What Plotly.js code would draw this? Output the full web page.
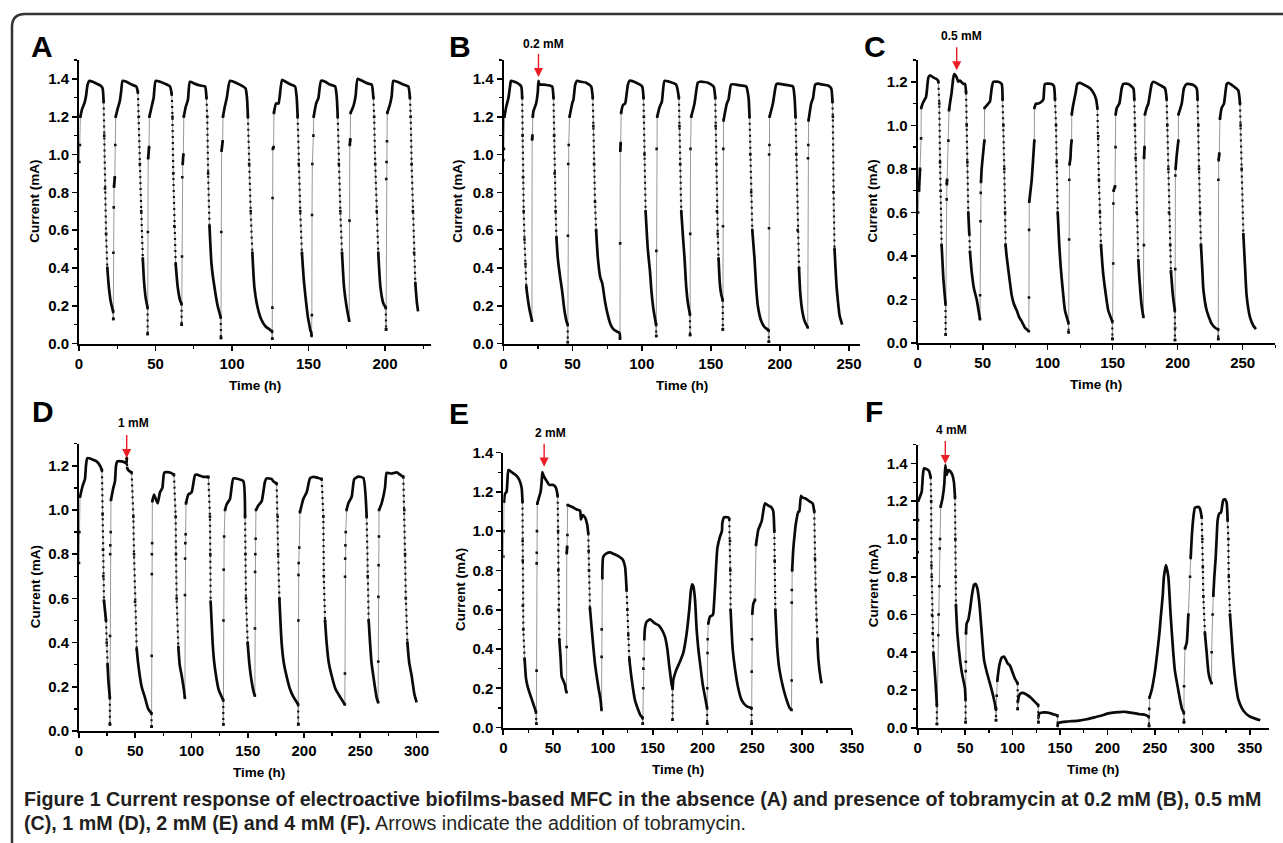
<!DOCTYPE html>
<html><head><meta charset="utf-8">
<script src="https://cdn.plot.ly/plotly-3.0.1.min.js"></script>
<style>html,body{margin:0;padding:0;background:#fff;}#chart{width:1283px;height:843px;}</style>
</head><body><div id="chart"></div>
<script>
// ---------------- DATA ----------------
const timeA = [0.2,0.6,0.9,2.0,3.5,4.6,5.6,6.8,9.0,11.5,14.0,15.4,16.1,16.5,17.0,17.7,18.5,19.5,20.8,22.3,22.4,
 22.5,22.7,22.9,23.4,23.7,24.0,25.2,26.6,27.5,28.5,31.0,34.3,37.4,38.5,39.1,39.8,40.7,41.7,42.5,43.6,44.8,44.9,
 45.0,45.2,45.8,46.0,47.4,48.8,50.1,53.0,57.3,59.5,60.6,61.1,61.6,62.3,63.2,64.5,66.0,67.0,67.1,
 67.3,67.5,67.8,68.2,68.5,69.7,71.2,72.5,75.5,79.3,82.4,83.3,83.8,84.4,85.3,86.6,88.5,90.6,92.6,92.8,
 93.0,93.2,93.9,94.1,95.2,96.6,98.6,101.0,105.0,108.8,109.8,110.4,111.2,112.2,113.3,114.6,116.5,119.0,122.0,124.5,126.2,126.3,
 126.4,126.5,126.7,127.2,127.4,128.8,130.4,132.7,135.0,138.5,141.2,142.3,142.9,143.6,144.6,145.7,147.0,148.4,149.6,150.3,151.2,151.8,152.0,
 152.2,152.3,152.5,153.2,153.4,155.0,156.5,158.2,161.0,164.0,167.4,168.5,169.1,169.8,170.8,171.9,173.2,174.8,176.6,
 176.8,177.0,177.3,177.5,179.5,180.8,182.1,185.0,189.0,191.3,192.4,192.9,193.6,194.6,195.6,197.0,199.0,200.5,200.7,
 200.8,201.0,201.3,201.5,203.4,204.4,205.4,208.0,212.0,215.2,216.3,216.8,217.4,218.2,219.0,219.8,220.8,221.6];
const currentA = [0.96,1.05,1.20,1.24,1.27,1.31,1.37,1.39,1.385,1.375,1.365,1.35,1.28,1.10,0.82,0.58,0.40,0.30,0.22,0.17,0.13,
 0.48,0.72,0.83,0.88,1.05,1.20,1.24,1.28,1.33,1.39,1.385,1.37,1.36,1.33,1.20,0.95,0.70,0.45,0.33,0.24,0.19,0.05,
 0.59,0.98,1.04,1.20,1.25,1.30,1.39,1.385,1.37,1.36,1.32,1.20,0.90,0.62,0.42,0.30,0.23,0.21,0.10,
 0.46,0.88,0.95,1.00,1.20,1.25,1.29,1.385,1.375,1.365,1.36,1.30,1.20,0.90,0.62,0.42,0.30,0.20,0.14,0.03,
 0.59,1.02,1.07,1.20,1.25,1.30,1.39,1.385,1.37,1.35,1.30,1.20,0.95,0.70,0.48,0.30,0.20,0.13,0.09,0.075,0.065,0.025,
 0.19,0.77,1.03,1.04,1.22,1.27,1.27,1.395,1.385,1.37,1.36,1.30,1.20,0.95,0.70,0.48,0.33,0.22,0.14,0.11,0.07,0.06,0.04,
 0.15,0.68,0.95,1.10,1.20,1.27,1.30,1.39,1.385,1.37,1.36,1.30,1.20,0.95,0.70,0.48,0.30,0.20,0.12,
 0.65,1.05,1.08,1.22,1.26,1.31,1.40,1.39,1.375,1.37,1.30,1.20,0.95,0.70,0.48,0.30,0.21,0.19,0.075,
 0.87,0.96,1.07,1.22,1.27,1.31,1.39,1.385,1.37,1.36,1.30,1.20,0.95,0.70,0.48,0.32,0.22,0.17];

const timeB = [0.0,0.3,0.7,1.9,3.6,5.1,5.5,9.6,12.8,13.5,13.8,14.1,14.6,15.2,15.9,16.5,17.5,18.8,20.0,20.6,
 20.7,20.9,21.2,21.7,23.6,24.8,25.3,26.0,29.0,33.3,35.2,36.2,36.6,37.0,37.7,38.3,39.3,41.0,42.4,44.0,45.5,46.4,
 46.5,46.6,46.8,47.2,47.8,49.7,50.6,51.9,53.3,56.0,59.8,63.4,64.6,65.0,65.5,66.2,67.0,68.3,70.0,71.4,71.9,73.5,75.5,77.5,79.0,81.5,84.0,84.3,
 84.4,84.5,84.8,85.1,86.3,88.0,90.0,91.2,96.0,100.3,101.3,101.6,102.0,102.8,104.4,106.0,107.0,108.5,110.4,110.5,
 110.6,110.8,111.2,112.9,114.6,116.5,120.0,124.9,126.9,127.3,127.8,128.6,130.0,131.0,132.2,133.5,134.9,135.0,
 135.1,135.3,135.8,138.2,140.6,142.3,147.9,152.0,153.2,153.5,154.0,154.4,155.0,155.6,156.5,157.5,158.6,158.7,
 158.8,159.0,159.2,161.6,162.8,164.7,168.0,172.0,175.6,177.3,178.0,178.5,179.2,180.0,181.6,182.8,184.0,186.4,188.5,190.0,191.9,192.0,
 192.1,192.2,192.4,192.5,194.9,197.3,198.5,203.0,206.9,209.4,210.6,211.3,211.8,212.8,213.8,214.6,216.0,217.8,220.1,
 220.3,220.5,220.7,222.6,224.0,225.5,227.4,231.0,234.7,237.1,238.0,238.3,238.8,239.5,240.2,241.0,242.0,243.1,244.2,245.0];
const currentB = [0.97,1.03,1.20,1.25,1.30,1.38,1.39,1.38,1.36,1.30,1.10,0.88,0.70,0.55,0.42,0.30,0.24,0.18,0.14,0.12,
 1.08,1.10,1.20,1.23,1.27,1.33,1.39,1.37,1.37,1.365,1.36,1.30,1.10,0.90,0.70,0.56,0.45,0.35,0.28,0.18,0.12,0.10,
 0.005,0.57,0.95,1.05,1.20,1.27,1.29,1.37,1.39,1.385,1.38,1.36,1.30,1.15,0.95,0.75,0.60,0.45,0.35,0.32,0.30,0.22,0.15,0.10,0.08,0.065,0.055,0.025,
 0.53,1.02,1.06,1.22,1.26,1.27,1.37,1.39,1.38,1.36,1.30,1.20,1.00,0.70,0.50,0.38,0.28,0.18,0.10,0.04,
 0.49,1.03,1.20,1.25,1.28,1.39,1.385,1.37,1.30,1.15,0.95,0.70,0.55,0.45,0.30,0.21,0.155,0.045,
 0.58,1.03,1.20,1.27,1.38,1.385,1.38,1.36,1.30,1.15,0.95,0.70,0.58,0.45,0.32,0.26,0.23,0.075,
 0.62,1.03,1.18,1.27,1.29,1.37,1.37,1.365,1.36,1.30,1.20,1.00,0.80,0.60,0.45,0.30,0.20,0.12,0.09,0.08,0.07,0.01,
 0.61,1.00,1.05,1.20,1.27,1.37,1.375,1.37,1.365,1.36,1.30,1.20,1.00,0.60,0.40,0.28,0.18,0.12,0.085,
 0.98,1.05,1.18,1.27,1.30,1.37,1.375,1.37,1.365,1.35,1.28,1.20,0.80,0.50,0.40,0.30,0.22,0.15,0.12,0.10];

const timeC = [0.3,1.0,1.8,2.6,2.7,3.8,5.5,6.4,6.9,8.2,9.5,12.0,15.1,15.9,16.6,17.2,17.7,18.4,19.7,20.5,21.4,21.5,
 22.3,22.4,22.6,23.6,24.1,24.8,26.1,27.4,28.2,30.0,31.2,32.5,35.1,36.4,37.2,37.7,38.2,38.9,39.7,40.2,41.5,43.3,45.4,47.9,
 48.0,48.3,48.5,48.7,49.2,51.3,51.4,54.3,55.6,56.9,58.2,62.0,64.6,65.3,65.9,66.6,67.2,67.6,68.4,70.5,72.3,74.0,76.2,78.0,80.0,82.6,85.5,
 85.6,85.7,85.8,86.4,87.7,89.7,89.8,91.0,92.8,95.4,96.7,97.9,103.0,104.8,105.6,106.4,106.9,107.7,108.9,110.0,111.5,113.3,115.9,116.1,
 116.5,116.6,116.8,117.5,117.9,118.4,118.5,119.2,121.5,122.8,124.8,129.9,132.5,135.1,137.2,138.2,138.9,139.4,140.2,141.0,142.5,144.1,146.6,149.7,
 149.8,150.4,150.5,150.7,151.8,152.2,152.3,153.1,155.1,156.9,158.2,162.0,165.9,166.6,167.1,167.6,168.4,169.7,170.5,172.3,173.6,
 174.0,174.1,174.5,174.8,176.1,177.4,180.0,181.2,186.4,190.2,191.5,192.0,192.8,193.3,194.2,194.8,196.3,197.8,197.9,
 198.0,198.1,198.2,198.4,199.2,200.5,200.6,203.1,204.8,206.9,212.1,214.6,215.3,215.9,216.4,217.2,217.9,219.0,219.7,222.3,226.1,229.0,231.1,
 231.2,231.3,231.5,232.0,232.5,233.8,235.6,237.7,239.0,242.8,246.6,247.9,248.4,249.2,250.5,251.8,253.0,255.6,258.2,260.2];
const currentC = [0.60,0.70,0.80,0.94,1.08,1.10,1.12,1.13,1.15,1.22,1.23,1.22,1.21,1.20,1.10,0.83,0.70,0.45,0.30,0.24,0.18,0.04,
 0.66,0.73,0.75,0.93,1.07,1.10,1.15,1.22,1.235,1.22,1.20,1.205,1.19,1.19,1.15,1.00,0.83,0.60,0.50,0.42,0.33,0.25,0.20,0.11,
 0.22,0.56,0.69,0.74,0.80,0.93,1.08,1.10,1.11,1.17,1.20,1.20,1.19,1.12,1.00,0.80,0.60,0.45,0.40,0.30,0.22,0.18,0.15,0.12,0.10,0.07,0.055,
 0.21,0.52,0.65,0.68,0.75,0.93,1.08,1.10,1.10,1.11,1.12,1.19,1.19,1.18,1.12,1.00,0.83,0.60,0.45,0.35,0.25,0.15,0.094,0.05,
 0.476,0.75,0.82,0.85,0.90,0.93,1.05,1.08,1.15,1.19,1.195,1.18,1.17,1.15,1.12,1.08,0.95,0.75,0.60,0.45,0.33,0.25,0.15,0.10,
 0.02,0.366,0.641,0.70,0.72,0.90,1.05,1.08,1.10,1.17,1.19,1.19,1.17,1.12,1.00,0.85,0.60,0.38,0.30,0.17,0.12,
 0.45,0.85,0.90,1.05,1.08,1.10,1.19,1.20,1.185,1.17,1.12,1.00,0.80,0.60,0.45,0.33,0.22,0.15,0.015,
 0.07,0.34,0.77,0.80,0.86,0.93,1.05,1.10,1.17,1.19,1.185,1.17,1.12,1.00,0.80,0.60,0.45,0.33,0.25,0.15,0.09,0.07,0.064,
 0.02,0.75,0.84,0.87,1.03,1.08,1.10,1.19,1.195,1.18,1.16,1.10,1.00,0.80,0.50,0.35,0.22,0.12,0.08,0.065];

const timeD = [0.0,0.3,0.9,3.3,5.3,6.2,7.4,11.3,15.7,18.7,20.4,21.0,21.3,21.6,22.2,24.0,24.6,25.4,26.1,27.4,27.5,
 27.6,27.7,27.8,28.2,28.4,30.5,32.0,32.9,34.1,37.9,40.9,42.2,42.5,42.8,43.9,46.8,48.3,48.9,49.8,51.3,52.7,55.7,58.7,61.5,64.4,
 64.5,64.6,64.7,64.8,65.0,65.2,66.7,69.9,72.0,74.1,75.9,80.9,84.4,85.9,86.2,86.8,88.3,89.5,91.3,93.3,94.1,
 94.2,94.3,94.5,94.8,95.1,97.2,100.1,103.1,104.6,110.5,115.0,116.4,116.7,117.0,118.8,120.0,121.8,124.0,126.8,128.2,
 128.3,128.4,128.6,129.0,129.8,131.3,134.2,137.2,141.6,146.1,147.6,147.9,148.4,149.9,151.5,153.5,155.6,156.3,
 156.4,156.5,156.7,157.0,157.3,159.4,162.4,165.3,166.8,171.3,172.7,175.7,176.6,177.0,178.1,180.1,182.0,184.6,187.5,190.5,194.8,194.9,
 195.0,195.1,195.3,195.8,196.4,199.4,202.4,205.3,208.3,212.7,215.7,217.2,217.6,218.7,220.1,222.0,224.6,228.0,232.0,236.3,
 236.4,236.5,236.6,236.8,237.1,237.9,239.4,242.4,244.7,248.3,252.7,255.7,256.6,257.5,258.7,260.0,261.6,264.6,265.9,
 266.0,266.1,266.3,266.6,266.7,269.0,272.0,273.5,277.9,282.4,285.3,288.3,289.2,289.8,290.5,291.9,293.5,295.7,298.0,300.1];
const currentD = [0.76,0.90,1.06,1.11,1.14,1.20,1.235,1.23,1.22,1.20,1.18,0.98,0.82,0.70,0.59,0.50,0.40,0.30,0.23,0.15,0.03,
 0.43,0.80,0.84,0.90,1.045,1.10,1.13,1.20,1.22,1.22,1.215,1.21,1.235,1.19,1.18,1.17,0.97,0.80,0.585,0.37,0.30,0.20,0.15,0.10,0.08,
 0.02,0.34,0.71,0.80,0.85,1.04,1.07,1.03,1.08,1.10,1.17,1.17,1.16,0.97,0.80,0.60,0.38,0.30,0.25,0.185,0.15,
 0.615,0.78,0.85,0.89,1.03,1.07,1.08,1.158,1.16,1.15,1.15,0.97,0.80,0.585,0.397,0.32,0.25,0.19,0.155,0.14,
 0.03,0.50,0.73,0.88,1.00,1.026,1.05,1.143,1.14,1.13,0.97,0.80,0.60,0.40,0.30,0.223,0.17,0.16,
 0.464,0.72,0.80,0.87,1.00,1.02,1.04,1.128,1.143,1.14,1.13,1.12,0.97,0.80,0.60,0.40,0.31,0.246,0.19,0.155,0.12,0.03,
 0.50,0.706,0.76,0.83,0.99,1.05,1.08,1.143,1.15,1.145,1.14,0.97,0.70,0.50,0.40,0.31,0.25,0.19,0.155,0.12,
 0.26,0.698,0.78,0.84,0.90,1.00,1.03,1.06,1.14,1.151,1.145,0.97,0.70,0.50,0.40,0.31,0.25,0.15,0.13,
 0.314,0.607,0.75,0.88,1.00,1.03,1.10,1.168,1.165,1.17,1.16,1.15,1.00,0.80,0.60,0.40,0.31,0.25,0.17,0.13];

const timeE = [0.0,0.4,0.7,1.7,3.3,5.0,6.0,8.4,12.7,16.1,18.4,19.3,19.4,19.5,19.6,20.1,21.4,22.8,24.4,26.8,29.5,32.8,33.2,
 33.4,33.5,33.6,33.8,34.1,35.8,37.5,38.5,39.2,40.2,41.8,44.2,46.2,50.2,52.9,54.6,55.0,55.2,55.5,56.2,57.6,58.6,60.2,61.9,62.9,63.5,
 63.6,63.7,64.1,64.4,64.6,66.9,70.3,73.6,77.0,78.0,79.7,82.0,84.3,85.3,85.7,86.0,87.0,90.4,92.0,95.4,97.7,98.6,
 98.7,98.8,99.4,100.4,103.7,107.1,110.4,115.5,119.8,122.2,123.8,124.5,125.5,126.5,128.8,132.2,135.5,138.0,139.9,140.0,
 140.5,140.6,140.9,141.6,142.2,143.9,147.3,148.9,152.3,155.6,159.0,162.3,164.7,166.7,169.0,169.9,
 170.0,170.1,170.7,173.4,177.4,180.7,184.1,186.7,188.4,189.7,190.8,192.5,194.1,195.8,198.2,200.2,202.8,204.6,
 204.7,204.8,205.0,205.2,205.8,207.5,210.2,210.8,212.5,214.9,217.5,219.5,219.9,221.6,225.9,226.9,227.6,227.9,228.2,230.3,232.6,235.9,239.3,244.0,249.2,
 249.3,249.4,249.6,250.0,251.0,252.7,253.7,256.0,259.4,261.0,262.7,266.1,269.4,271.1,272.1,272.5,273.1,275.1,277.1,281.1,284.5,287.5,289.4,
 289.5,289.6,289.7,290.0,291.2,292.8,293.5,296.2,297.2,298.9,300.5,302.9,307.9,310.6,312.2,312.9,313.6,314.6,315.3,316.3,318.6,319.6];
const currentE = [0.87,1.00,1.15,1.19,1.20,1.31,1.31,1.30,1.285,1.26,1.22,1.15,0.95,0.85,0.62,0.50,0.35,0.25,0.21,0.17,0.13,0.08,0.02,
 0.29,0.836,0.89,1.00,1.14,1.17,1.20,1.25,1.30,1.285,1.269,1.25,1.235,1.235,1.22,1.18,1.00,0.80,0.60,0.45,0.35,0.26,0.24,0.217,0.19,0.18,
 0.41,0.888,0.92,0.98,1.133,1.128,1.12,1.11,1.104,1.059,1.082,1.07,1.031,0.988,0.90,0.80,0.607,0.41,0.327,0.208,0.14,0.09,
 0.36,0.50,0.76,0.87,0.887,0.892,0.885,0.873,0.856,0.82,0.70,0.60,0.47,0.35,0.25,0.14,0.09,0.06,0.05,0.02,
 0.20,0.30,0.35,0.45,0.505,0.539,0.551,0.545,0.53,0.522,0.50,0.463,0.40,0.31,0.22,0.20,
 0.04,0.20,0.243,0.29,0.336,0.38,0.48,0.60,0.70,0.729,0.72,0.65,0.50,0.40,0.30,0.22,0.15,0.10,
 0.02,0.20,0.38,0.45,0.53,0.564,0.573,0.58,0.708,0.912,0.971,1.00,1.04,1.07,1.07,1.06,0.95,0.80,0.60,0.40,0.30,0.20,0.14,0.11,0.10,
 0.02,0.285,0.45,0.58,0.63,0.65,0.929,1.006,1.05,1.10,1.141,1.13,1.12,1.10,1.00,0.85,0.60,0.40,0.30,0.20,0.14,0.10,0.09,
 0.24,0.636,0.70,0.80,0.912,0.997,1.03,1.098,1.10,1.18,1.17,1.167,1.15,1.14,1.10,0.86,0.70,0.548,0.45,0.35,0.25,0.225];

const timeF = [0.0,0.4,0.7,2.4,4.2,5.5,6.6,9.4,11.9,13.7,14.2,14.5,14.7,15.1,15.8,16.5,17.9,19.3,20.2,20.3,
 21.7,22.0,22.8,23.2,23.5,24.2,26.3,28.1,29.1,30.5,32.3,34.0,36.5,38.2,39.3,39.7,40.0,40.3,41.8,44.6,46.3,48.1,49.8,50.4,
 50.5,50.6,50.7,50.9,51.6,53.3,55.1,57.2,59.3,61.1,62.8,65.0,67.4,69.9,72.7,78.0,80.4,82.4,82.5,
 82.6,83.2,83.9,86.0,88.4,90.9,93.0,94.8,97.2,99.7,102.5,105.3,
 105.4,105.6,106.5,108.0,111.0,115.0,119.0,123.0,127.0,
 127.2,127.4,128.0,130.0,133.0,137.0,141.0,144.0,147.3,
 147.5,148.0,152.0,157.0,162.0,170.0,178.0,186.0,194.0,200.0,206.0,212.0,217.0,222.0,228.0,234.0,240.0,243.5,
 243.8,244.0,244.3,246.6,250.1,252.5,254.7,256.4,258.2,259.5,261.6,264.1,266.5,269.3,271.1,274.6,276.4,278.5,280.5,
 280.6,280.7,281.7,283.5,285.2,287.0,287.7,288.7,290.2,292.2,295.7,297.5,299.3,300.0,300.5,301.0,302.7,304.5,306.3,308.0,309.7,
 309.8,310.8,311.5,312.6,314.0,315.0,316.1,317.8,319.6,322.0,323.8,325.6,326.6,327.3,327.8,329.1,331.9,333.7,336.1,337.9,342.0,346.0,350.0,355.0,361.0];
const currentF = [0.93,1.10,1.203,1.224,1.25,1.34,1.374,1.37,1.36,1.327,1.20,0.86,0.80,0.597,0.50,0.395,0.306,0.20,0.12,0.02,
 0.49,0.60,0.75,0.95,1.00,1.171,1.22,1.295,1.392,1.339,1.365,1.36,1.34,1.30,1.22,1.00,0.80,0.65,0.50,0.36,0.30,0.253,0.209,0.15,
 0.03,0.30,0.35,0.50,0.553,0.571,0.624,0.704,0.757,0.762,0.74,0.659,0.509,0.36,0.297,0.20,0.15,0.10,0.04,
 0.10,0.17,0.25,0.33,0.371,0.377,0.36,0.341,0.33,0.297,0.26,0.236,
 0.10,0.14,0.165,0.18,0.185,0.175,0.16,0.14,0.12,
 0.03,0.06,0.075,0.08,0.082,0.08,0.075,0.07,0.065,
 0.01,0.025,0.03,0.033,0.035,0.038,0.045,0.055,0.065,0.075,0.08,0.083,0.085,0.082,0.078,0.072,0.068,0.06,
 0.01,0.10,0.16,0.20,0.30,0.40,0.50,0.60,0.70,0.80,0.862,0.80,0.60,0.40,0.30,0.20,0.15,0.10,0.08,
 0.03,0.22,0.42,0.45,0.60,0.80,0.90,1.00,1.10,1.166,1.17,1.16,1.116,1.00,0.85,0.695,0.50,0.40,0.297,0.257,0.236,
 0.40,0.60,0.70,0.80,0.90,1.00,1.10,1.135,1.14,1.206,1.21,1.19,1.10,1.00,0.80,0.60,0.40,0.30,0.20,0.15,0.10,0.075,0.06,0.05,0.04];

const panelLetters = ['A','B','C','D','E','F'];
const doseLabels = [null,'0.2 mM','0.5 mM','1 mM','2 mM','4 mM'];
// arrow tips (time h, current mA) marking the tobramycin addition
const doseTime = [null,25.3,30.0,42.4,41.0,29.1];
const doseCurrent = [null,1.41,1.253,1.235,1.328,1.397];
const xTitle = 'Time (h)';
const yTitle = 'Current (mA)';
const captionLine1 = '<b>Figure 1 Current response of electroactive biofilms-based MFC in the absence (A) and presence of tobramycin at 0.2 mM (B), 0.5 mM</b>';
const captionLine2 = '<b>(C), 1 mM (D), 2 mM (E) and 4 mM (F).</b> Arrows indicate the addition of tobramycin.';

// ---------------- LAYOUT ----------------
const W = 1283, H = 843;
const series = [[timeA,currentA],[timeB,currentB],[timeC,currentC],[timeD,currentD],[timeE,currentE],[timeF,currentF]];
const boxes = [
  {x0:79,    x1:430.9,  y0:60,    y1:343.5, xr:[0,230], yr:[0,1.5], lx:42,  ly:46,  tx:35,  dl:[0,0]},
  {x0:503.5, x1:860.1,  y0:60,    y1:343.5, xr:[0,258], yr:[0,1.5], lx:460, ly:46,  tx:458, dl:[543,43.5]},
  {x0:917.7, x1:1275.2, y0:60,    y1:343.2, xr:[0,275], yr:[0,1.3], lx:875, ly:46,  tx:873, dl:[961,36]},
  {x0:79,    x1:439,    y0:443.7, y1:731,   xr:[0,320], yr:[0,1.3], lx:43,  ly:411, tx:35,  dl:[133,423]},
  {x0:503.3, x1:851.9,  y0:452.5, y1:727.6, xr:[0,350], yr:[0,1.4], lx:459, ly:413, tx:460, dl:[550,433]},
  {x0:917.7, x1:1268.8, y0:444.6, y1:727.8, xr:[0,370], yr:[0,1.5], lx:874, ly:411, tx:873, dl:[951.7,430]}
];
const FONT = 'Liberation Sans, Arial, Helvetica, sans-serif';
const px = x => x / W, py = y => 1 - y / H;

function splitSegments(t, v, sx, sy) {
  const out = {dense:{x:[],y:[]}, up:{x:[],y:[]}, down:{x:[],y:[]}};
  const last = {dense:-5, up:-5, down:-5};
  for (let i = 0; i < t.length - 1; i++) {
    const dx = (t[i+1]-t[i])*sx, dy = (v[i+1]-v[i])*sy;
    const steep = Math.abs(dy) > 5 && Math.abs(dy) > 22*Math.abs(dx);
    const k = !steep ? 'dense' : (dy > 0 ? 'up' : 'down');
    const o = out[k];
    if (last[k] !== i) {
      if (o.x.length) { o.x.push(null); o.y.push(null); }
      o.x.push(t[i]); o.y.push(v[i]);
    }
    o.x.push(t[i+1]); o.y.push(v[i+1]);
    last[k] = i+1;
  }
  return out;
}

const data = [];
const layout = {
  width: W, height: H, margin:{l:0,r:0,t:0,b:0}, showlegend:false,
  paper_bgcolor:'#fff', plot_bgcolor:'rgba(0,0,0,0)',
  annotations: [], shapes: []
};
const tickfont = {family:FONT, size:15, weight:700, color:'#000'};

boxes.forEach((b, i) => {
  const n = i === 0 ? '' : String(i+1);
  const xa = 'x'+n, ya = 'y'+n;
  layout['xaxis'+n] = {
    domain:[px(b.x0), px(b.x1)], range:b.xr, anchor:ya, showline:true, linewidth:2, linecolor:'#000',
    ticks:'outside', ticklen:5, tickwidth:1.6, tickcolor:'#000', tick0:0, dtick:50,
    showgrid:false, zeroline:false, tickfont:tickfont, fixedrange:true, automargin:false,
    minor:{dtick:25, ticks:'outside', ticklen:3, tickwidth:1.3, tickcolor:'#000', showgrid:false}
  };
  layout['yaxis'+n] = {
    domain:[py(b.y1), py(b.y0)], range:b.yr, anchor:xa, showline:true, linewidth:2, linecolor:'#000',
    ticks:'outside', ticklen:5, tickwidth:1.6, tickcolor:'#000', tick0:0, dtick:0.2, tickformat:'.1f',
    showgrid:false, zeroline:false, tickfont:tickfont, fixedrange:true, automargin:false,
    minor:{dtick:0.1, ticks:'outside', ticklen:3, tickwidth:1.3, tickcolor:'#000', showgrid:false}
  };
  const sx = (b.x1-b.x0)/(b.xr[1]-b.xr[0]), sy = (b.y1-b.y0)/(b.yr[1]-b.yr[0]);
  const s = splitSegments(series[i][0], series[i][1], sx, sy);
  data.push({type:'scatter', mode:'lines+markers', x:s.up.x, y:s.up.y, xaxis:xa, yaxis:ya,
    line:{color:'#8c8c8c', width:0.9}, marker:{symbol:'square', size:2.6, color:'#111'}, hoverinfo:'skip'});
  data.push({type:'scatter', mode:'lines+markers', x:s.down.x, y:s.down.y, xaxis:xa, yaxis:ya,
    line:{color:'#8c8c8c', width:0.9}, marker:{symbol:'square', size:2.6, color:'#111'}, hoverinfo:'skip'});
  data.push({type:'scatter', mode:'lines', x:s.down.x, y:s.down.y, xaxis:xa, yaxis:ya,
    line:{color:'#111', width:2.2, dash:'2px,4px'}, hoverinfo:'skip'});
  data.push({type:'scatter', mode:'lines', x:s.dense.x, y:s.dense.y, xaxis:xa, yaxis:ya,
    line:{color:'#0a0a0a', width:2.7, shape:'spline', smoothing:0.5}, hoverinfo:'skip'});

  // panel letter
  layout.annotations.push({xref:'paper', yref:'paper', x:px(b.lx), y:py(b.ly), xanchor:'center', yanchor:'middle',
    text:'<b>'+panelLetters[i]+'</b>', showarrow:false, font:{family:FONT, size:30, color:'#000'}});
  // axis titles
  layout.annotations.push({xref:'paper', yref:'paper', x:px((b.x0+b.x1)/2), y:py(b.y1+41.5), xanchor:'center', yanchor:'middle',
    text:'<b>'+xTitle+'</b>', showarrow:false, font:{family:FONT, size:13.5, color:'#000'}});
  layout.annotations.push({xref:'paper', yref:'paper', x:px(b.tx), y:py((b.y0+b.y1)/2), xanchor:'center', yanchor:'middle',
    text:'<b>'+yTitle+'</b>', textangle:-90, showarrow:false, font:{family:FONT, size:13.5, color:'#000'}});
  // dose arrow + label
  if (doseLabels[i]) {
    layout.annotations.push({xref:xa, yref:ya, x:doseTime[i], y:doseCurrent[i], ax:0, ay:-25, axref:'pixel', ayref:'pixel',
      text:' ', font:{size:1}, showarrow:true, arrowcolor:'#ee1c24', arrowwidth:1.4, arrowhead:2, arrowsize:1.3, standoff:0, startstandoff:0});
    layout.annotations.push({xref:'paper', yref:'paper', x:px(b.dl[0]), y:py(b.dl[1]), xanchor:'center', yanchor:'middle',
      text:'<b>'+doseLabels[i]+'</b>', showarrow:false, font:{family:FONT, size:12, color:'#000'}});
  }
});

// caption
const CAPFONT = 'Liberation Sans Narrow, Arial Narrow, Liberation Sans, sans-serif';
layout.annotations.push({xref:'paper', yref:'paper', x:px(22), y:py(799), xanchor:'left', yanchor:'middle',
  text:captionLine1, showarrow:false, font:{family:CAPFONT, size:19.7, color:'#231f20'}});
layout.annotations.push({xref:'paper', yref:'paper', x:px(22), y:py(823), xanchor:'left', yanchor:'middle',
  text:captionLine2, showarrow:false, font:{family:CAPFONT, size:19.7, color:'#231f20'}});

// rounded frame (top-left corner)
layout.shapes.push({type:'path', xref:'paper', yref:'paper',
  path:`M ${px(12)},${py(845)} L ${px(12)},${py(27)} Q ${px(12)},${py(14)} ${px(25)},${py(14)} L ${px(1285)},${py(14)}`,
  line:{color:'#333', width:2.5}});

Plotly.newPlot('chart', data, layout, {staticPlot:true, displayModeBar:false});
</script>
</body></html>
